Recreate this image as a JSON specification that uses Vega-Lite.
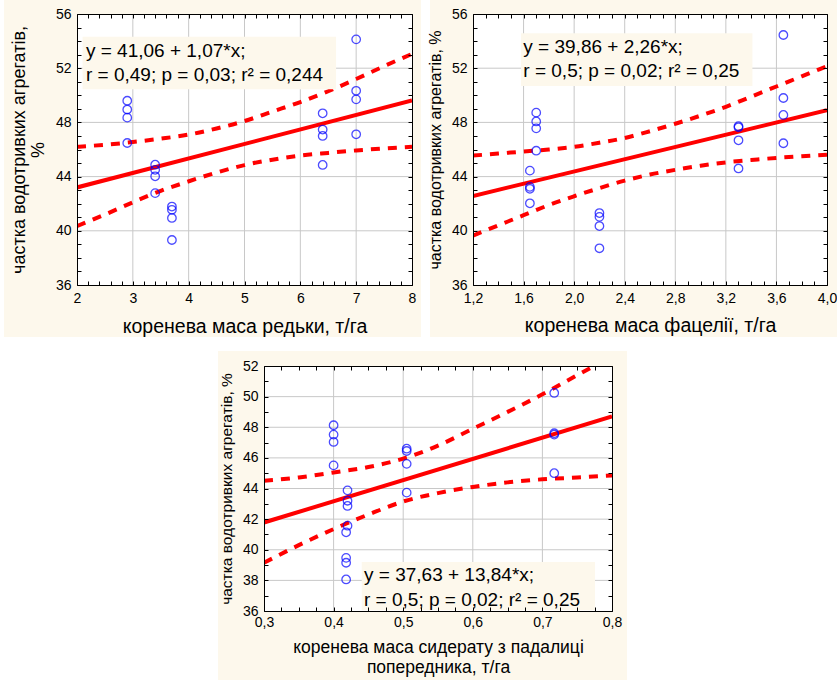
{
  "$schema": "https://vega.github.io/schema/vega-lite/v6.json",
  "background": "#ffffff",
  "padding": {"left": 3, "top": 0, "right": 0, "bottom": 0},
  "spacing": 12,
  "vconcat": [
    {
      "spacing": 6,
      "hconcat": [
        {
          "width": 335,
          "height": 271,
          "resolve": {"axis": {"x": "independent", "y": "independent"}},
          "layer": [
            {
              "data": {"values": [{"panel": "редька"}]},
              "mark": {"type": "rect", "fill": "#fdf8ec"},
              "encoding": {
                "x": {"datum": 0.6925, "type": "quantitative", "scale": {"domain": [2, 8], "nice": false, "zero": false},
                  "axis": {"orient": "bottom", "zindex": 2, "title": "коренева маса редьки, т/га", "titleFontSize": 19.5, "titlePadding": 12,
                    "values": [2,2.2,2.4,2.6,2.8,3,3.2,3.4,3.6,3.8,4,4.2,4.4,4.6,4.8,5,5.2,5.4,5.6,5.8,6,6.2,6.4,6.6,6.8,7,7.2,7.4,7.6,7.8,8],
                    "labelExpr": "abs(datum.value - round(datum.value)) < 1e-6 ? format(datum.value, 'd') : ''"}},
                "x2": {"datum": 8.161},
                "y": {"datum": 32.16, "type": "quantitative", "scale": {"domain": [36, 56], "nice": false, "zero": false},
                  "axis": {"orient": "left", "zindex": 2, "title": ["частка водотривких агрегатів,", "%"], "titleFontSize": 18, "titleLineHeight": 19, "titlePadding": 8,
                    "values": [36,37,38,39,40,41,42,43,44,45,46,47,48,49,50,51,52,53,54,55,56],
                    "labelExpr": "datum.value % 4 === 0 ? format(datum.value, 'd') : ''"}},
                "y2": {"datum": 57.03}
              }
            },
            {
              "data": {"values": [{"panel": "редька"}]},
              "mark": {"type": "rect", "fill": "#ffffff"},
              "encoding": {
                "x": {"datum": 2, "type": "quantitative", "scale": {"domain": [2, 8], "nice": false, "zero": false},
                  "axis": {"orient": "top", "zindex": 2, "labels": false, "title": null,
                    "values": [2,2.2,2.4,2.6,2.8,3,3.2,3.4,3.6,3.8,4,4.2,4.4,4.6,4.8,5,5.2,5.4,5.6,5.8,6,6.2,6.4,6.6,6.8,7,7.2,7.4,7.6,7.8,8]}},
                "x2": {"datum": 8},
                "y": {"datum": 36, "type": "quantitative", "scale": {"domain": [36, 56], "nice": false, "zero": false},
                  "axis": {"orient": "right", "zindex": 2, "labels": false, "title": null,
                    "values": [36,37,38,39,40,41,42,43,44,45,46,47,48,49,50,51,52,53,54,55,56]}},
                "y2": {"datum": 56}
              }
            },
            {
              "data": {"values": [{"v": 3}, {"v": 4}, {"v": 5}, {"v": 6}, {"v": 7}]},
              "mark": {"type": "rule", "color": "#c8c8c8", "strokeWidth": 1},
              "encoding": {"x": {"field": "v", "type": "quantitative", "axis": null, "scale": {"domain": [2, 8], "nice": false, "zero": false}}}
            },
            {
              "data": {"values": [{"v": 40}, {"v": 44}, {"v": 48}, {"v": 52}]},
              "mark": {"type": "rule", "color": "#c8c8c8", "strokeWidth": 1},
              "encoding": {"y": {"field": "v", "type": "quantitative", "axis": null, "scale": {"domain": [36, 56], "nice": false, "zero": false}}}
            },
            {
              "data": {"values": [
                {"x": 2, "y": 46.2, "side": "upper"}, {"x": 2.5, "y": 46.35, "side": "upper"}, {"x": 3, "y": 46.55, "side": "upper"},
                {"x": 3.5, "y": 46.8, "side": "upper"}, {"x": 4, "y": 47.1, "side": "upper"}, {"x": 4.5, "y": 47.55, "side": "upper"},
                {"x": 5, "y": 48.1, "side": "upper"}, {"x": 5.5, "y": 48.8, "side": "upper"}, {"x": 6, "y": 49.5, "side": "upper"},
                {"x": 6.5, "y": 50.3, "side": "upper"}, {"x": 7, "y": 51.2, "side": "upper"}, {"x": 7.5, "y": 52.15, "side": "upper"},
                {"x": 8, "y": 53.05, "side": "upper"},
                {"x": 2, "y": 40.35, "side": "lower"}, {"x": 2.5, "y": 41.2, "side": "lower"}, {"x": 3, "y": 42.1, "side": "lower"},
                {"x": 3.5, "y": 42.95, "side": "lower"}, {"x": 4, "y": 43.65, "side": "lower"}, {"x": 4.5, "y": 44.3, "side": "lower"},
                {"x": 5, "y": 44.85, "side": "lower"}, {"x": 5.5, "y": 45.25, "side": "lower"}, {"x": 6, "y": 45.55, "side": "lower"},
                {"x": 6.5, "y": 45.75, "side": "lower"}, {"x": 7, "y": 45.93, "side": "lower"}, {"x": 7.5, "y": 46.08, "side": "lower"},
                {"x": 8, "y": 46.2, "side": "lower"}
              ]},
              "mark": {"type": "line", "color": "#ff0000", "strokeWidth": 4, "strokeDash": [9, 8], "interpolate": "monotone", "clip": true},
              "encoding": {
                "x": {"field": "x", "type": "quantitative", "axis": null, "scale": {"domain": [2, 8], "nice": false, "zero": false}},
                "y": {"field": "y", "type": "quantitative", "axis": null, "scale": {"domain": [36, 56], "nice": false, "zero": false}},
                "detail": {"field": "side"}
              }
            },
            {
              "data": {"values": [{"x": 2, "y": 43.2}, {"x": 8, "y": 49.62}]},
              "mark": {"type": "line", "color": "#ff0000", "strokeWidth": 4, "clip": true},
              "encoding": {
                "x": {"field": "x", "type": "quantitative", "axis": null, "scale": {"domain": [2, 8], "nice": false, "zero": false}},
                "y": {"field": "y", "type": "quantitative", "axis": null, "scale": {"domain": [36, 56], "nice": false, "zero": false}}
              }
            },
            {
              "data": {"values": [
                {"x": 2.9, "y": 49.6}, {"x": 2.9, "y": 48.95}, {"x": 2.9, "y": 48.35}, {"x": 2.9, "y": 46.48},
                {"x": 3.4, "y": 44.88}, {"x": 3.4, "y": 44.5}, {"x": 3.4, "y": 44.02}, {"x": 3.4, "y": 42.78},
                {"x": 3.7, "y": 41.79}, {"x": 3.7, "y": 41.55}, {"x": 3.7, "y": 40.95}, {"x": 3.7, "y": 39.32},
                {"x": 6.4, "y": 48.67}, {"x": 6.4, "y": 47.47}, {"x": 6.4, "y": 47.0}, {"x": 6.4, "y": 44.86},
                {"x": 7.0, "y": 54.13}, {"x": 7.0, "y": 50.33}, {"x": 7.0, "y": 49.7}, {"x": 7.0, "y": 47.12}
              ]},
              "mark": {"type": "point", "shape": "circle", "filled": false, "color": "#0000ff", "size": 72, "strokeWidth": 1.3},
              "encoding": {
                "x": {"field": "x", "type": "quantitative", "axis": null, "scale": {"domain": [2, 8], "nice": false, "zero": false}},
                "y": {"field": "y", "type": "quantitative", "axis": null, "scale": {"domain": [36, 56], "nice": false, "zero": false}}
              }
            },
            {
              "data": {"values": [{"panel": "редька"}]},
              "mark": {"type": "rect", "fill": "#fdf8ec"},
              "encoding": {
                "x": {"datum": 2.1, "type": "quantitative", "axis": null, "scale": {"domain": [2, 8], "nice": false, "zero": false}},
                "x2": {"datum": 6.64},
                "y": {"datum": 50.44, "type": "quantitative", "axis": null, "scale": {"domain": [36, 56], "nice": false, "zero": false}},
                "y2": {"datum": 54.33}
              }
            },
            {
              "data": {"values": [{"panel": "редька"}]},
              "mark": {"type": "text", "align": "left", "baseline": "alphabetic", "fontSize": 19, "lineHeight": 24, "color": "#000000"},
              "encoding": {
                "x": {"datum": 2.16, "type": "quantitative", "axis": null, "scale": {"domain": [2, 8], "nice": false, "zero": false}},
                "y": {"datum": 52.8, "type": "quantitative", "axis": null, "scale": {"domain": [36, 56], "nice": false, "zero": false}},
                "text": {"value": ["y = 41,06 + 1,07*x;", "r = 0,49; p = 0,03; r² = 0,244"]}
              }
            }
          ]
        },
        {
          "width": 354,
          "height": 271,
          "resolve": {"axis": {"x": "independent", "y": "independent"}},
          "layer": [
            {
              "data": {"values": [{"panel": "фацелія"}]},
              "mark": {"type": "rect", "fill": "#fdf8ec"},
              "encoding": {
                "x": {"datum": 0.86, "type": "quantitative", "scale": {"domain": [1.2, 4.0], "nice": false, "zero": false},
                  "axis": {"orient": "bottom", "zindex": 2, "title": "коренева маса фацелії, т/га", "titleFontSize": 19.5, "titlePadding": 11,
                    "values": [1.2,1.3,1.4,1.5,1.6,1.7,1.8,1.9,2.0,2.1,2.2,2.3,2.4,2.5,2.6,2.7,2.8,2.9,3.0,3.1,3.2,3.3,3.4,3.5,3.6,3.7,3.8,3.9,4.0],
                    "labelExpr": "abs(datum.value / 0.4 - round(datum.value / 0.4)) < 1e-6 ? replace(format(datum.value, '.1f'), '.', ',') : ''"}},
                "x2": {"datum": 4.111},
                "y": {"datum": 32.16, "type": "quantitative", "scale": {"domain": [36, 56], "nice": false, "zero": false},
                  "axis": {"orient": "left", "zindex": 2, "title": "частка водотривких агрегатів, %", "titleFontSize": 16, "titlePadding": 8,
                    "values": [36,37,38,39,40,41,42,43,44,45,46,47,48,49,50,51,52,53,54,55,56],
                    "labelExpr": "datum.value % 4 === 0 ? format(datum.value, 'd') : ''"}},
                "y2": {"datum": 57.03}
              }
            },
            {
              "data": {"values": [{"panel": "фацелія"}]},
              "mark": {"type": "rect", "fill": "#ffffff"},
              "encoding": {
                "x": {"datum": 1.2, "type": "quantitative", "scale": {"domain": [1.2, 4.0], "nice": false, "zero": false},
                  "axis": {"orient": "top", "zindex": 2, "labels": false, "title": null,
                    "values": [1.2,1.3,1.4,1.5,1.6,1.7,1.8,1.9,2.0,2.1,2.2,2.3,2.4,2.5,2.6,2.7,2.8,2.9,3.0,3.1,3.2,3.3,3.4,3.5,3.6,3.7,3.8,3.9,4.0]}},
                "x2": {"datum": 4.0},
                "y": {"datum": 36, "type": "quantitative", "scale": {"domain": [36, 56], "nice": false, "zero": false},
                  "axis": {"orient": "right", "zindex": 2, "labels": false, "title": null,
                    "values": [36,37,38,39,40,41,42,43,44,45,46,47,48,49,50,51,52,53,54,55,56]}},
                "y2": {"datum": 56}
              }
            },
            {
              "data": {"values": [{"v": 1.6}, {"v": 2.0}, {"v": 2.4}, {"v": 2.8}, {"v": 3.2}, {"v": 3.6}]},
              "mark": {"type": "rule", "color": "#c8c8c8", "strokeWidth": 1},
              "encoding": {"x": {"field": "v", "type": "quantitative", "axis": null, "scale": {"domain": [1.2, 4.0], "nice": false, "zero": false}}}
            },
            {
              "data": {"values": [{"v": 40}, {"v": 44}, {"v": 48}, {"v": 52}]},
              "mark": {"type": "rule", "color": "#c8c8c8", "strokeWidth": 1},
              "encoding": {"y": {"field": "v", "type": "quantitative", "axis": null, "scale": {"domain": [36, 56], "nice": false, "zero": false}}}
            },
            {
              "data": {"values": [
                {"x": 1.2, "y": 45.55, "side": "upper"}, {"x": 1.4, "y": 45.7, "side": "upper"}, {"x": 1.6, "y": 45.85, "side": "upper"},
                {"x": 1.8, "y": 46.0, "side": "upper"}, {"x": 2.0, "y": 46.2, "side": "upper"}, {"x": 2.2, "y": 46.5, "side": "upper"},
                {"x": 2.4, "y": 46.85, "side": "upper"}, {"x": 2.6, "y": 47.35, "side": "upper"}, {"x": 2.8, "y": 47.9, "side": "upper"},
                {"x": 3.0, "y": 48.5, "side": "upper"}, {"x": 3.2, "y": 49.15, "side": "upper"}, {"x": 3.4, "y": 49.9, "side": "upper"},
                {"x": 3.6, "y": 50.65, "side": "upper"}, {"x": 3.8, "y": 51.4, "side": "upper"}, {"x": 4.0, "y": 52.15, "side": "upper"},
                {"x": 1.2, "y": 39.65, "side": "lower"}, {"x": 1.4, "y": 40.4, "side": "lower"}, {"x": 1.6, "y": 41.15, "side": "lower"},
                {"x": 1.8, "y": 41.9, "side": "lower"}, {"x": 2.0, "y": 42.55, "side": "lower"}, {"x": 2.2, "y": 43.15, "side": "lower"},
                {"x": 2.4, "y": 43.7, "side": "lower"}, {"x": 2.6, "y": 44.15, "side": "lower"}, {"x": 2.8, "y": 44.5, "side": "lower"},
                {"x": 3.0, "y": 44.8, "side": "lower"}, {"x": 3.2, "y": 45.05, "side": "lower"}, {"x": 3.4, "y": 45.22, "side": "lower"},
                {"x": 3.6, "y": 45.38, "side": "lower"}, {"x": 3.8, "y": 45.5, "side": "lower"}, {"x": 4.0, "y": 45.62, "side": "lower"}
              ]},
              "mark": {"type": "line", "color": "#ff0000", "strokeWidth": 4, "strokeDash": [9, 8], "interpolate": "monotone", "clip": true},
              "encoding": {
                "x": {"field": "x", "type": "quantitative", "axis": null, "scale": {"domain": [1.2, 4.0], "nice": false, "zero": false}},
                "y": {"field": "y", "type": "quantitative", "axis": null, "scale": {"domain": [36, 56], "nice": false, "zero": false}},
                "detail": {"field": "side"}
              }
            },
            {
              "data": {"values": [{"x": 1.2, "y": 42.572}, {"x": 4.0, "y": 48.9}]},
              "mark": {"type": "line", "color": "#ff0000", "strokeWidth": 4, "clip": true},
              "encoding": {
                "x": {"field": "x", "type": "quantitative", "axis": null, "scale": {"domain": [1.2, 4.0], "nice": false, "zero": false}},
                "y": {"field": "y", "type": "quantitative", "axis": null, "scale": {"domain": [36, 56], "nice": false, "zero": false}}
              }
            },
            {
              "data": {"values": [
                {"x": 1.65, "y": 44.44}, {"x": 1.65, "y": 43.24}, {"x": 1.65, "y": 43.1}, {"x": 1.65, "y": 42.03},
                {"x": 1.7, "y": 48.72}, {"x": 1.7, "y": 48.07}, {"x": 1.7, "y": 47.56}, {"x": 1.7, "y": 45.91},
                {"x": 2.2, "y": 41.31}, {"x": 2.2, "y": 41.03}, {"x": 2.2, "y": 40.35}, {"x": 2.2, "y": 38.71},
                {"x": 3.3, "y": 47.72}, {"x": 3.3, "y": 47.64}, {"x": 3.3, "y": 46.68}, {"x": 3.3, "y": 44.6},
                {"x": 3.655, "y": 54.45}, {"x": 3.655, "y": 49.8}, {"x": 3.655, "y": 48.55}, {"x": 3.655, "y": 46.46}
              ]},
              "mark": {"type": "point", "shape": "circle", "filled": false, "color": "#0000ff", "size": 72, "strokeWidth": 1.3},
              "encoding": {
                "x": {"field": "x", "type": "quantitative", "axis": null, "scale": {"domain": [1.2, 4.0], "nice": false, "zero": false}},
                "y": {"field": "y", "type": "quantitative", "axis": null, "scale": {"domain": [36, 56], "nice": false, "zero": false}}
              }
            },
            {
              "data": {"values": [{"panel": "фацелія"}]},
              "mark": {"type": "rect", "fill": "#fdf8ec"},
              "encoding": {
                "x": {"datum": 1.58, "type": "quantitative", "axis": null, "scale": {"domain": [1.2, 4.0], "nice": false, "zero": false}},
                "x2": {"datum": 3.41},
                "y": {"datum": 50.69, "type": "quantitative", "axis": null, "scale": {"domain": [36, 56], "nice": false, "zero": false}},
                "y2": {"datum": 54.58}
              }
            },
            {
              "data": {"values": [{"panel": "фацелія"}]},
              "mark": {"type": "text", "align": "left", "baseline": "alphabetic", "fontSize": 19, "lineHeight": 24, "color": "#000000"},
              "encoding": {
                "x": {"datum": 1.598, "type": "quantitative", "axis": null, "scale": {"domain": [1.2, 4.0], "nice": false, "zero": false}},
                "y": {"datum": 53.1, "type": "quantitative", "axis": null, "scale": {"domain": [36, 56], "nice": false, "zero": false}},
                "text": {"value": ["y = 39,86 + 2,26*x;", "r = 0,5; p = 0,02; r² = 0,25"]}
              }
            }
          ]
        }
      ]
    },
    {
      "spacing": 0,
      "hconcat": [
        {
          "width": 140,
          "height": 20,
          "data": {"values": []},
          "mark": "point"
        },
        {
          "width": 348,
          "height": 245,
          "resolve": {"axis": {"x": "independent", "y": "independent"}},
          "layer": [
            {
              "data": {"values": [{"panel": "сидерат"}]},
              "mark": {"type": "rect", "fill": "#fdf8ec"},
              "encoding": {
                "x": {"datum": 0.2339, "type": "quantitative", "scale": {"domain": [0.3, 0.8], "nice": false, "zero": false},
                  "axis": {"orient": "bottom", "zindex": 2, "title": ["коренева маса сидерату з падалиці", "попередника, т/га"], "titleFontSize": 17.5, "titleLineHeight": 20, "titlePadding": 9, "labelPadding": 8,
                    "values": [0.3,0.325,0.35,0.375,0.4,0.425,0.45,0.475,0.5,0.525,0.55,0.575,0.6,0.625,0.65,0.675,0.7,0.725,0.75,0.775,0.8],
                    "labelExpr": "abs(datum.value * 10 - round(datum.value * 10)) < 1e-6 ? replace(format(datum.value, '.1f'), '.', ',') : ''"}},
                "x2": {"datum": 0.8216},
                "y": {"datum": 31.36, "type": "quantitative", "scale": {"domain": [36, 52], "nice": false, "zero": false},
                  "axis": {"orient": "left", "zindex": 2, "title": "частка водотривких агрегатів, %", "titleFontSize": 15.5, "titlePadding": 8,
                    "values": [36,37,38,39,40,41,42,43,44,45,46,47,48,49,50,51,52],
                    "labelExpr": "datum.value % 2 === 0 ? format(datum.value, 'd') : ''"}},
                "y2": {"datum": 52.98}
              }
            },
            {
              "data": {"values": [{"panel": "сидерат"}]},
              "mark": {"type": "rect", "fill": "#ffffff"},
              "encoding": {
                "x": {"datum": 0.3, "type": "quantitative", "scale": {"domain": [0.3, 0.8], "nice": false, "zero": false},
                  "axis": {"orient": "top", "zindex": 2, "labels": false, "title": null,
                    "values": [0.3,0.325,0.35,0.375,0.4,0.425,0.45,0.475,0.5,0.525,0.55,0.575,0.6,0.625,0.65,0.675,0.7,0.725,0.75,0.775,0.8]}},
                "x2": {"datum": 0.8},
                "y": {"datum": 36, "type": "quantitative", "scale": {"domain": [36, 52], "nice": false, "zero": false},
                  "axis": {"orient": "right", "zindex": 2, "labels": false, "title": null,
                    "values": [36,37,38,39,40,41,42,43,44,45,46,47,48,49,50,51,52]}},
                "y2": {"datum": 52}
              }
            },
            {
              "data": {"values": [{"v": 0.4}, {"v": 0.5}, {"v": 0.6}, {"v": 0.7}]},
              "mark": {"type": "rule", "color": "#c8c8c8", "strokeWidth": 1},
              "encoding": {"x": {"field": "v", "type": "quantitative", "axis": null, "scale": {"domain": [0.3, 0.8], "nice": false, "zero": false}}}
            },
            {
              "data": {"values": [{"v": 38}, {"v": 40}, {"v": 42}, {"v": 44}, {"v": 46}, {"v": 48}, {"v": 50}]},
              "mark": {"type": "rule", "color": "#c8c8c8", "strokeWidth": 1},
              "encoding": {"y": {"field": "v", "type": "quantitative", "axis": null, "scale": {"domain": [36, 52], "nice": false, "zero": false}}}
            },
            {
              "data": {"values": [
                {"x": 0.3, "y": 44.5, "side": "upper"}, {"x": 0.35, "y": 44.72, "side": "upper"}, {"x": 0.4, "y": 45.05, "side": "upper"},
                {"x": 0.45, "y": 45.4, "side": "upper"}, {"x": 0.5, "y": 45.95, "side": "upper"}, {"x": 0.55, "y": 46.8, "side": "upper"},
                {"x": 0.6, "y": 47.9, "side": "upper"}, {"x": 0.65, "y": 49.0, "side": "upper"}, {"x": 0.7, "y": 50.15, "side": "upper"},
                {"x": 0.75, "y": 51.4, "side": "upper"}, {"x": 0.8, "y": 52.65, "side": "upper"},
                {"x": 0.3, "y": 39.15, "side": "lower"}, {"x": 0.35, "y": 40.3, "side": "lower"}, {"x": 0.4, "y": 41.35, "side": "lower"},
                {"x": 0.45, "y": 42.3, "side": "lower"}, {"x": 0.5, "y": 43.15, "side": "lower"}, {"x": 0.55, "y": 43.7, "side": "lower"},
                {"x": 0.6, "y": 44.1, "side": "lower"}, {"x": 0.65, "y": 44.4, "side": "lower"}, {"x": 0.7, "y": 44.6, "side": "lower"},
                {"x": 0.75, "y": 44.72, "side": "lower"}, {"x": 0.8, "y": 44.85, "side": "lower"}
              ]},
              "mark": {"type": "line", "color": "#ff0000", "strokeWidth": 4, "strokeDash": [9, 8], "interpolate": "monotone", "clip": true},
              "encoding": {
                "x": {"field": "x", "type": "quantitative", "axis": null, "scale": {"domain": [0.3, 0.8], "nice": false, "zero": false}},
                "y": {"field": "y", "type": "quantitative", "axis": null, "scale": {"domain": [36, 52], "nice": false, "zero": false}},
                "detail": {"field": "side"}
              }
            },
            {
              "data": {"values": [{"x": 0.3, "y": 41.782}, {"x": 0.8, "y": 48.702}]},
              "mark": {"type": "line", "color": "#ff0000", "strokeWidth": 4, "clip": true},
              "encoding": {
                "x": {"field": "x", "type": "quantitative", "axis": null, "scale": {"domain": [0.3, 0.8], "nice": false, "zero": false}},
                "y": {"field": "y", "type": "quantitative", "axis": null, "scale": {"domain": [36, 52], "nice": false, "zero": false}}
              }
            },
            {
              "data": {"values": [
                {"x": 0.4, "y": 48.13}, {"x": 0.4, "y": 47.52}, {"x": 0.4, "y": 47.04}, {"x": 0.4, "y": 45.51},
                {"x": 0.42, "y": 43.88}, {"x": 0.42, "y": 43.2}, {"x": 0.42, "y": 42.86}, {"x": 0.42, "y": 41.57},
                {"x": 0.418, "y": 41.14}, {"x": 0.418, "y": 39.47}, {"x": 0.418, "y": 39.15}, {"x": 0.418, "y": 38.06},
                {"x": 0.505, "y": 46.6}, {"x": 0.505, "y": 46.45}, {"x": 0.505, "y": 45.61}, {"x": 0.505, "y": 43.73},
                {"x": 0.717, "y": 50.24}, {"x": 0.717, "y": 47.61}, {"x": 0.717, "y": 47.52}, {"x": 0.717, "y": 45.0}
              ]},
              "mark": {"type": "point", "shape": "circle", "filled": false, "color": "#0000ff", "size": 72, "strokeWidth": 1.3},
              "encoding": {
                "x": {"field": "x", "type": "quantitative", "axis": null, "scale": {"domain": [0.3, 0.8], "nice": false, "zero": false}},
                "y": {"field": "y", "type": "quantitative", "axis": null, "scale": {"domain": [36, 52], "nice": false, "zero": false}}
              }
            },
            {
              "data": {"values": [{"panel": "сидерат"}]},
              "mark": {"type": "rect", "fill": "#fdf8ec"},
              "encoding": {
                "x": {"datum": 0.4404, "type": "quantitative", "axis": null, "scale": {"domain": [0.3, 0.8], "nice": false, "zero": false}},
                "x2": {"datum": 0.7756},
                "y": {"datum": 36.05, "type": "quantitative", "axis": null, "scale": {"domain": [36, 52], "nice": false, "zero": false}},
                "y2": {"datum": 39.2}
              }
            },
            {
              "data": {"values": [{"panel": "сидерат"}]},
              "mark": {"type": "text", "align": "left", "baseline": "alphabetic", "fontSize": 19, "lineHeight": 25, "color": "#000000"},
              "encoding": {
                "x": {"datum": 0.4437, "type": "quantitative", "axis": null, "scale": {"domain": [0.3, 0.8], "nice": false, "zero": false}},
                "y": {"datum": 37.96, "type": "quantitative", "axis": null, "scale": {"domain": [36, 52], "nice": false, "zero": false}},
                "text": {"value": ["y = 37,63 + 13,84*x;", "r = 0,5; p = 0,02; r² = 0,25"]}
              }
            }
          ]
        }
      ]
    }
  ],
  "config": {
    "font": "Liberation Sans",
    "view": {"stroke": null},
    "axis": {
      "zindex": 2,
      "grid": false,
      "domainColor": "#000000",
      "domainWidth": 1,
      "tickColor": "#000000",
      "tickWidth": 1,
      "tickSize": -4,
      "labelColor": "#000000",
      "labelFont": "Liberation Sans",
      "labelFontSize": 14,
      "labelPadding": 10,
      "labelOverlap": false,
      "labelFlush": false,
      "titleColor": "#000000",
      "titleFont": "Liberation Sans",
      "titleFontWeight": "normal"
    }
  }
}
